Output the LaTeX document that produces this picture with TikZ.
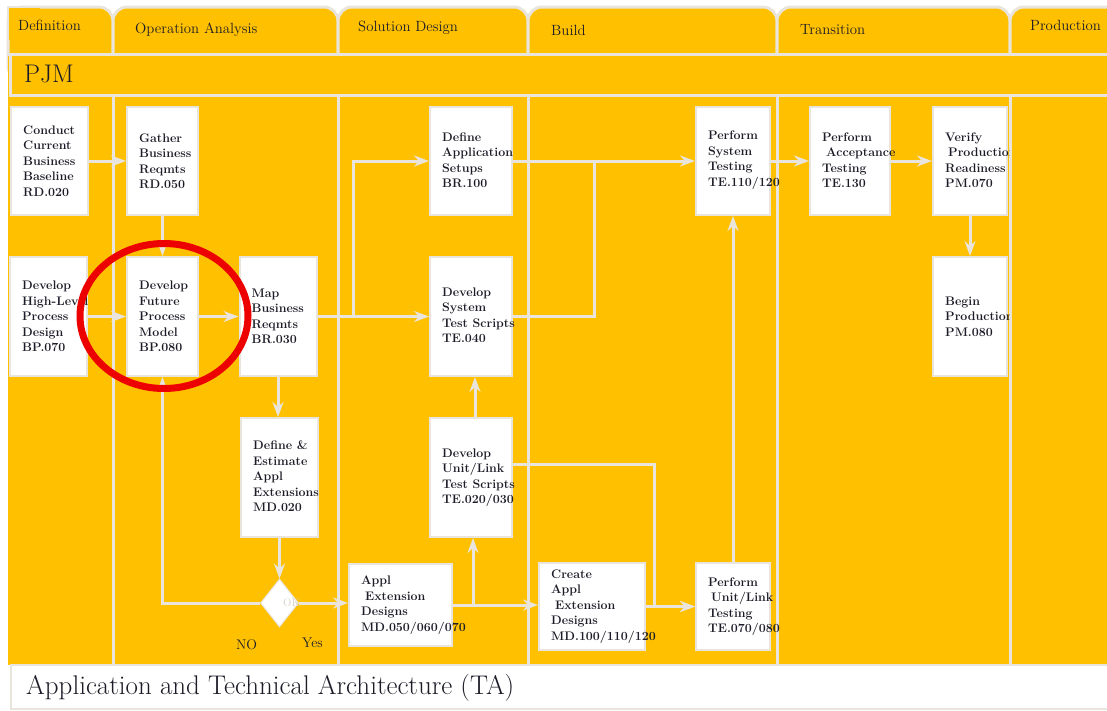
\documentclass[tikz,border=0pt]{standalone}
\usetikzlibrary{shapes.geometric,arrows.meta,calc}
\definecolor{yel}{RGB}{255,192,0}
\definecolor{lineg}{RGB}{234,229,220}
\definecolor{txt}{RGB}{28,28,40}
\definecolor{ring}{RGB}{236,0,0}
\definecolor{okgray}{RGB}{214,209,200}

\begin{document}
\begin{tikzpicture}[x=1pt,y=-1pt,
  box/.style={draw=lineg, fill=white, line width=2pt, inner sep=0},
  boxtext/.style={anchor=west, inner sep=0, align=left, text=txt,
                  font=\fontsize{12.4}{15.5}\selectfont\bfseries},
  tabshape/.style={fill=yel, draw=lineg, line width=3pt, rounded corners=14pt},
  sep/.style={draw=lineg, line width=3pt},
  conn/.style={draw=lineg, line width=3pt},
  arr/.style={conn, -{Stealth[length=15pt,width=11pt,inset=5pt]}},
  tablabel/.style={anchor=west, inner sep=0, text=txt, font=\fontsize{14.8}{17}\selectfont},
  small/.style={inner sep=0, text=txt, font=\fontsize{14}{16}\selectfont},
]
\useasboundingbox (0,0) rectangle (1107,710);
\fill[white] (0,0) rectangle (1107,710);

% phase tabs (the first one has a square top-left corner)
\path[tabshape] (8,7) rectangle (113,80);
\fill[yel] (8,7) rectangle (40,40);
\draw[sep, line width=1.5pt] (40,7) -- (8,7) -- (8,40);
\path[tabshape] (113,7) rectangle (338,80);
\path[tabshape] (338,7) rectangle (528,80);
\path[tabshape] (528,7) rectangle (777,80);
\path[tabshape] (777,7) rectangle (1010,80);
\path[tabshape] (1010,7) rectangle (1130,80);

% swimlane body
\fill[yel] (8,54) rectangle (1107,665);
\draw[sep] (8,54) -- (1107,54);
\draw[sep] (10,54) -- (10,95.5) -- (1107,95.5);
\foreach \lx in {113,338,528,777,1010}
  \draw[sep] (\lx,95.5) -- (\lx,665);

% architecture band
\filldraw[fill=white, draw=lineg, line width=2pt] (11,665) rectangle (1115,709);

% labels of tabs and bands
\node[tablabel] (tdef) at (18,25) {Definition};
\node[tablabel] (topa) at (135,30) {Operation Analysis};
\node[tablabel] (tsol) at (358,28) {Solution Design};
\node[tablabel] (tbld) at (551,30) {Build};
\node[tablabel] (ttrn) at (800,30) {Transition};
\node[tablabel] (tprd) at (1030,25) {Production};
\node[anchor=west, inner sep=0, text=txt, font=\fontsize{25.5}{28}\selectfont] (pjm) at (24,74) {PJM};
\node[anchor=west, inner sep=0, text=txt, font=\fontsize{27}{30}\selectfont] (ta) at (26,688) {Application and Technical Architecture (TA)};

% task boxes
\node[box, minimum width=77pt, minimum height=108pt] (rd020) at (49.5,161) {};
\node[box, minimum width=71pt, minimum height=108pt] (rd050) at (162.5,161) {};
\node[box, minimum width=82pt, minimum height=108pt] (br100) at (471,161) {};
\node[box, minimum width=74pt, minimum height=108pt] (te110) at (733,161) {};
\node[box, minimum width=80pt, minimum height=108pt] (te130) at (850,161) {};
\node[box, minimum width=74pt, minimum height=108pt] (pm070) at (970,161) {};
\node[box, minimum width=77pt, minimum height=119pt] (bp070) at (48.5,316.5) {};
\node[box, minimum width=71pt, minimum height=119pt] (bp080) at (162.5,316.5) {};
\node[box, minimum width=77pt, minimum height=119pt] (br030) at (278,316.5) {};
\node[box, minimum width=82pt, minimum height=119pt] (te040) at (471,316.5) {};
\node[box, minimum width=74pt, minimum height=119pt] (pm080) at (970,316.5) {};
\node[box, minimum width=77pt, minimum height=119pt] (md020) at (279.5,477.5) {};
\node[box, minimum width=82pt, minimum height=119pt] (te020) at (471,477.5) {};
\node[box, minimum width=103pt, minimum height=82pt] (md050) at (400.5,605) {};
\node[box, minimum width=106pt, minimum height=87pt] (md100) at (592,606.5) {};
\node[box, minimum width=74pt, minimum height=87pt] (te070) at (733,606.5) {};
\node[diamond, draw=lineg, fill=white, line width=1pt, inner sep=0,
      minimum width=38pt, minimum height=48pt] (dec) at (279.5,603) {};

% connectors
\draw[arr] (rd020.east) -- (rd050.west);
\draw[arr] (rd050.south) -- (bp080.north);
\draw[arr] (bp070.east) -- (bp080.west);
\draw[arr] (bp080.east) -- (br030.west);
\draw[arr] (br030.east) -- (te040.west);
\coordinate (j1) at (353,161);
\draw[arr] (j1 |- br030.east) -- (j1) -- (br100.west);
\draw[arr] (br100.east) -- (te110.west);
\coordinate (j2) at (594,161);
\draw[conn] (te040.east) -| (j2);
\draw[arr] (te110.east) -- (te130.west);
\draw[arr] (te130.east) -- (pm070.west);
\draw[arr] (pm070.south) -- (pm080.north);
\draw[arr] (br030.south) -- (br030.south |- md020.north);
\draw[arr] (md020.south) -- (dec.north);
\draw[arr] (dec.east) -- (dec.east -| md050.west);
\draw[arr] (dec.west) -| (bp080.south);
\draw[arr] (md050.east) -- (md050.east -| md100.west);
\draw[arr] ($(te020.south |- md050.east)+(2,0)$) -- ($(te020.south)+(2,0)$);
\draw[arr] ($(te020.north)+(4,0)$) -- ($(te040.south)+(4,0)$);
\coordinate (j3) at (654,464);
\draw[arr] (te020.east |- j3) -- (j3) |- (te070.west);
\draw[arr] (md100.east) -- (te070.west);
\draw[arr] (te070.north) -- (te110.south);

% decision labels
\node[anchor=west, inner sep=0, text=okgray, font=\fontsize{11}{12}\selectfont] (ok) at (283,603) {OK};
\node[small] (no) at (246.5,645) {NO};
\node[small] (yes) at (312.5,643) {Yes};

% task texts
\node[boxtext] (rd020t) at ($(rd020.west)+(13,0)$) {Conduct\\Current\\Business\\Baseline\\RD.020};
\node[boxtext] (rd050t) at ($(rd050.west)+(13,0)$) {Gather\\Business\\Reqmts\\RD.050};
\node[boxtext] (br100t) at ($(br100.west)+(13,-1)$) {Define\\Application\\Setups\\BR.100};
\node[boxtext] (te110t) at ($(te110.west)+(13,-1)$) {Perform\\System\\Testing\\TE.110/120};
\node[boxtext] (te130t) at ($(te130.west)+(13,-1)$) {Perform\\\hspace*{4pt}Acceptance\\Testing\\TE.130};
\node[boxtext] (bp070t) at ($(bp070.west)+(13,0)$) {Develop\\High-Level\\Process\\Design\\BP.070};
\node[boxtext] (bp080t) at ($(bp080.west)+(13,0)$) {Develop\\Future\\Process\\Model\\BP.080};
\node[boxtext] (br030t) at ($(br030.west)+(13,0)$) {Map\\Business\\Reqmts\\BR.030};
\node[boxtext] (te040t) at ($(te040.west)+(13,-1)$) {Develop\\System\\Test Scripts\\TE.040};
\node[boxtext] (md020t) at ($(md020.west)+(13,-1)$) {Define \&\\Estimate\\Appl\\Extensions\\MD.020};
\node[boxtext] (te020t) at ($(te020.west)+(13,0)$) {Develop\\Unit/Link\\Test Scripts\\TE.020/030};
\node[boxtext] (md050t) at ($(md050.west)+(13,0)$) {Appl\\\hspace*{4pt}Extension\\Designs\\MD.050/060/070};
\node[boxtext] (md100t) at ($(md100.west)+(13,0)$) {Create\\Appl\\\hspace*{4pt}Extension\\Designs\\MD.100/110/120};
\node[boxtext] (te070t) at ($(te070.west)+(13,0)$) {Perform\\\hspace*{3pt}Unit/Link\\Testing\\TE.070/080};
\begin{scope}
  \clip (0,0) rectangle (1009,710);
  \node[boxtext] (pm070t) at ($(pm070.west)+(13,-1)$) {Verify\\\hspace*{3pt}Production\\Readiness\\PM.070};
  \node[boxtext] (pm080t) at ($(pm080.west)+(13,0)$) {Begin\\Production\\PM.080};
\end{scope}

% highlight ring
\draw[ring, line width=7pt] (164,316) ellipse [x radius=84, y radius=72.5];
\end{tikzpicture}
\end{document}
